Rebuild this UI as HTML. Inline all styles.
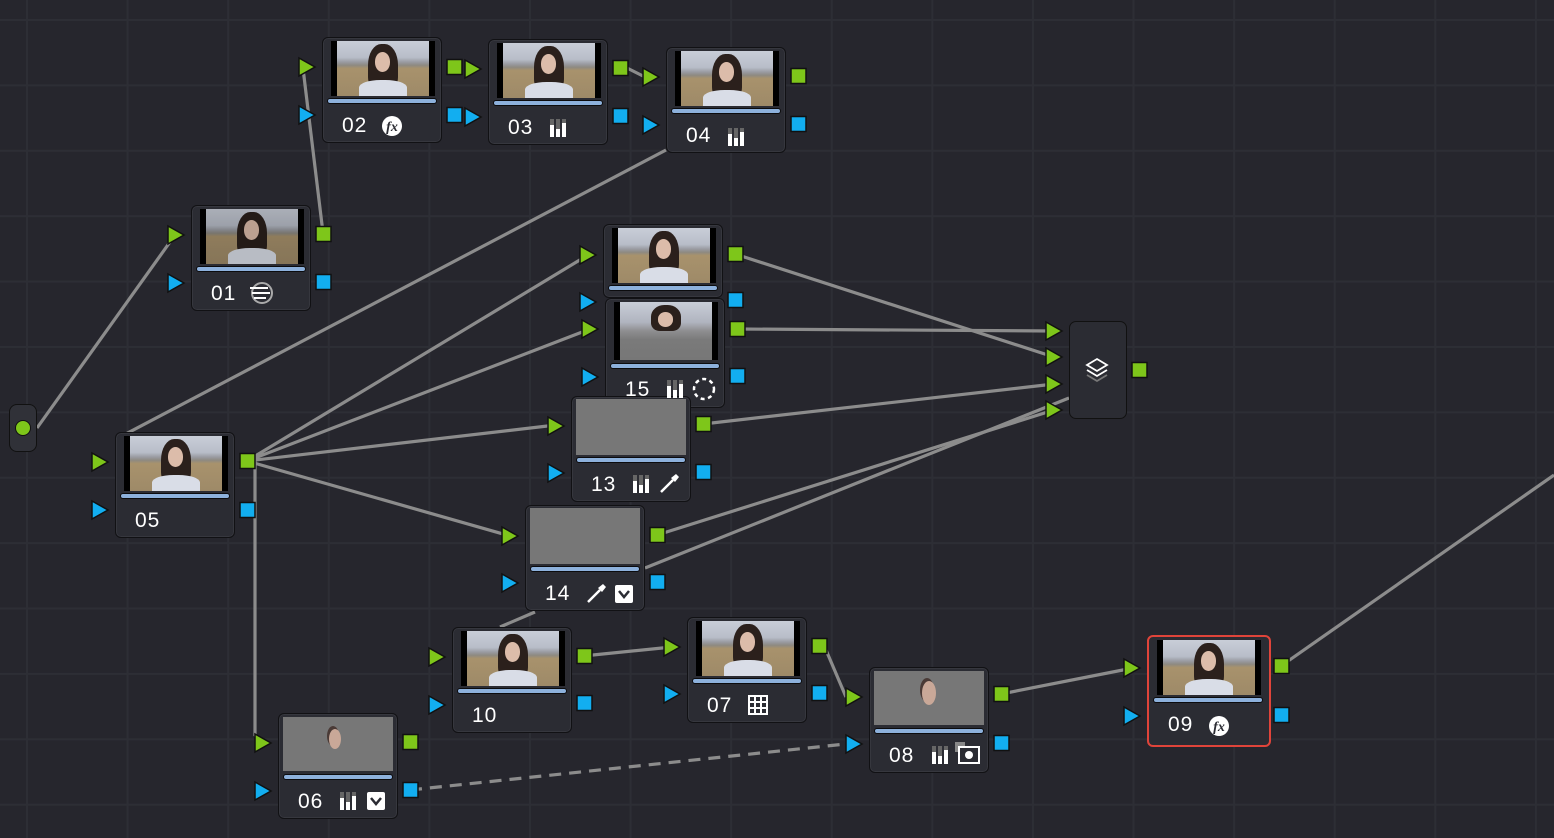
<!DOCTYPE html>
<html><head><meta charset="utf-8"><style>
html,body{margin:0;padding:0}
body{width:1554px;height:838px;overflow:hidden;position:relative;background-color:#26262d;
background-image:linear-gradient(90deg,#2d2e35 2px,transparent 2px),linear-gradient(#2d2e35 2px,transparent 2px);
background-size:100.6px 65.4px;background-position:26px 19px;font-family:"Liberation Sans","DejaVu Sans",sans-serif}
.n{position:absolute;width:118px;height:104px;background:#2b2c33;border:1px solid #111114;border-radius:6px;box-shadow:inset 0 0 0 1px #36373e}
.t{position:absolute;left:8px;top:3px;width:104px;height:55px;background:#000;overflow:hidden}
.ph{position:absolute;left:6px;right:6px;top:0;bottom:0;overflow:hidden;background:linear-gradient(#c9ced8 0%,#b8bdc8 30%,#9a9ca3 38%,#8e8a82 44%,#a8926c 50%,#9e8a68 100%)}
.hair{position:absolute;left:34%;top:6%;width:32%;height:85%;background:#2b201c;border-radius:45% 45% 30% 30%}
.face{position:absolute;left:41%;top:20%;width:17%;height:36%;background:#dcbcaa;border-radius:50%}
.shirt{position:absolute;left:24%;bottom:0;width:52%;height:30%;background:#d9dde7;border-radius:45% 45% 0 0}
.g{position:absolute;left:8px;top:3px;width:104px;height:55px;background:#777}
.bar{position:absolute;left:4px;top:60px;width:108px;height:4px;background:#8db1dc;border:1px solid #0c0c0e;border-radius:3px}
.lb{position:absolute;left:19px;top:76px;color:#fff;font-size:21px;letter-spacing:1px}
</style></head><body>

<svg width="1554" height="838" style="position:absolute;left:0;top:0" xmlns="http://www.w3.org/2000/svg">
<g stroke="#8c8c8c" stroke-width="3.2" fill="none">
<path d="M37,428 L175,235"/>
<path d="M323,233 L302,60"/>
<path d="M627,68 L645,77"/>
<path d="M120,437 L666,150"/>
<path d="M247,461 L588,255 M247,461 L590,329 M247,461 L556,425 M247,461 L510,536"/>
<path d="M255,461 L255,735 L265,742"/>
<path d="M735,254 L1054,357"/>
<path d="M737,329 L1054,331"/>
<path d="M703,424 L1054,384"/>
<path d="M657,535 L1054,410"/>
<path d="M645,568 L1069,398"/>
<path d="M535,612 L500,627"/>
<path d="M583,656 L672,647"/>
<path d="M826,650 L846,697"/>
<path d="M1001,694 L1133,668"/>
<path d="M1281,666 L1554,475"/>
<path d="M410,790 L855,743" stroke-dasharray="12,8"/>
</g>
</svg>

<div style="position:absolute;left:9px;top:404px;width:26px;height:46px;background:#303138;border:1px solid #111;border-radius:8px"></div>
<div style="position:absolute;left:15px;top:420px;width:14px;height:14px;background:#7ec61a;border:1px solid #111;border-radius:50%"></div>

<div style="position:absolute;left:1069px;top:321px;width:56px;height:96px;background:#2b2c33;border:1px solid #111;border-radius:7px"></div>

<div class="n" style="left:322px;top:37px"><div class="t"><div class="ph"><div class="hair"></div><div class="face"></div><div class="shirt"></div></div></div><div class="bar"></div><div class="lb">02</div></div>
<div class="n" style="left:488px;top:39px"><div class="t"><div class="ph"><div class="hair"></div><div class="face"></div><div class="shirt"></div></div></div><div class="bar"></div><div class="lb">03</div></div>
<div class="n" style="left:666px;top:47px"><div class="t"><div class="ph"><div class="hair"></div><div class="face"></div><div class="shirt"></div></div></div><div class="bar"></div><div class="lb">04</div></div>
<div class="n" style="left:191px;top:205px"><div class="t"><div class="ph" style="opacity:.85"><div class="hair"></div><div class="face"></div><div class="shirt"></div></div></div><div class="bar"></div><div class="lb">01</div></div>
<div class="n" style="left:603px;top:224px;height:72px"><div class="t"><div class="ph"><div class="hair"></div><div class="face"></div><div class="shirt"></div></div></div><div class="bar"></div></div>
<div class="n" style="left:605px;top:298px;height:108px"><div class="t" style="height:58px"><div class="ph" style="background:linear-gradient(#c9ced8 0%,#b0b4bf 35%,#8e8e90 50%,#7a7a7a 65%,#777 100%)"><div class="hair" style="height:45%;top:5%"></div><div class="face" style="top:18%;height:25%"></div></div></div><div class="bar" style="top:64px"></div><div class="lb" style="top:79px">15</div></div>
<div class="n" style="left:571px;top:396px"><div class="g" style="left:4px;width:110px;top:2px;height:56px"></div><div class="bar"></div><div class="lb">13</div></div>
<div class="n" style="left:115px;top:432px"><div class="t"><div class="ph"><div class="hair"></div><div class="face"></div><div class="shirt"></div></div></div><div class="bar"></div><div class="lb">05</div></div>
<div class="n" style="left:525px;top:505px"><div class="g" style="left:4px;width:110px;top:2px;height:56px"></div><div class="bar"></div><div class="lb">14</div></div>
<div class="n" style="left:452px;top:627px"><div class="t"><div class="ph"><div class="hair"></div><div class="face"></div><div class="shirt"></div></div></div><div class="bar"></div><div class="lb">10</div></div>
<div class="n" style="left:687px;top:617px"><div class="t"><div class="ph"><div class="hair"></div><div class="face"></div><div class="shirt"></div></div></div><div class="bar"></div><div class="lb">07</div></div>
<div class="n" style="left:869px;top:667px"><div class="g" style="left:4px;width:110px;top:3px;height:54px"><div style="position:absolute;left:48px;top:10px;width:14px;height:24px;background:#c9a898;border-radius:50%;box-shadow:-2px -3px 0 #4a3a36"></div></div><div class="bar"></div><div class="lb">08</div></div>
<div class="n" style="left:278px;top:713px"><div class="g" style="left:4px;width:110px;top:3px;height:54px"><div style="position:absolute;left:46px;top:12px;width:12px;height:20px;background:#c9a898;border-radius:50%;box-shadow:-2px -3px 0 #4a3a36"></div></div><div class="bar"></div><div class="lb">06</div></div>
<div class="n" style="left:1147px;top:635px;border:2px solid #e0443a;box-shadow:none;width:120px;height:108px"><div class="t"><div class="ph"><div class="hair"></div><div class="face"></div><div class="shirt"></div></div></div><div class="bar"></div><div class="lb">09</div></div>

<svg width="1554" height="838" style="position:absolute;left:0;top:0" xmlns="http://www.w3.org/2000/svg">
<defs>
<g id="tg"><polygon points="0,-9 16,0 0,9" fill="#7ec61a" stroke="#111" stroke-width="1.5"/></g>
<g id="tb"><polygon points="0,-9 16,0 0,9" fill="#12aef0" stroke="#111" stroke-width="1.5"/></g>
<g id="sg"><rect x="0" y="-7.5" width="15" height="15" fill="#7ec61a" stroke="#111" stroke-width="1.5"/></g>
<g id="sb"><rect x="0" y="-7.5" width="15" height="15" fill="#12aef0" stroke="#111" stroke-width="1.5"/></g>
<g id="bars"><rect x="0" y="0" width="4" height="18" fill="#666"/><rect x="6" y="0" width="4" height="18" fill="#666"/><rect x="12" y="0" width="4" height="18" fill="#666"/><rect x="0" y="6" width="4" height="12" fill="#fff"/><rect x="6" y="10" width="4" height="8" fill="#fff"/><rect x="12" y="4" width="4" height="14" fill="#fff"/></g>
<g id="fx"><circle cx="0" cy="0" r="10" fill="#fff"/><text x="0" y="5" text-anchor="middle" font-family="Liberation Serif,serif" font-style="italic" font-weight="bold" font-size="14" fill="#2b2c33">fx</text></g>
<g id="chk"><rect x="-9" y="-9" width="18" height="18" rx="2" fill="#fff"/><path d="M-5,-3 L0,3 L5,-3" stroke="#2b2c33" stroke-width="2.5" fill="none"/></g>
<g id="pick"><path d="M-8,8 L4,-4" stroke="#fff" stroke-width="2.5"/><path d="M2,-6 L7,-10 L10,-7 L6,-2 Z" fill="#fff"/></g>
</defs>
<use href="#tg" x="299" y="67"/><use href="#tb" x="299" y="115"/><use href="#sg" x="447" y="67"/><use href="#sb" x="447" y="115"/>
<use href="#tg" x="465" y="69"/><use href="#tb" x="465" y="117"/><use href="#sg" x="613" y="68"/><use href="#sb" x="613" y="116"/>
<use href="#tg" x="643" y="77"/><use href="#tb" x="643" y="125"/><use href="#sg" x="791" y="76"/><use href="#sb" x="791" y="124"/>
<use href="#tg" x="168" y="235"/><use href="#tb" x="168" y="283"/><use href="#sg" x="316" y="234"/><use href="#sb" x="316" y="282"/>
<use href="#tg" x="580" y="255"/><use href="#tb" x="580" y="302"/><use href="#sg" x="728" y="254"/><use href="#sb" x="728" y="300"/>
<use href="#tg" x="582" y="329"/><use href="#tb" x="582" y="377"/><use href="#sg" x="730" y="329"/><use href="#sb" x="730" y="376"/>
<use href="#tg" x="548" y="426"/><use href="#tb" x="548" y="473"/><use href="#sg" x="696" y="424"/><use href="#sb" x="696" y="472"/>
<use href="#tg" x="92" y="462"/><use href="#tb" x="92" y="510"/><use href="#sg" x="240" y="461"/><use href="#sb" x="240" y="510"/>
<use href="#tg" x="502" y="536"/><use href="#tb" x="502" y="583"/><use href="#sg" x="650" y="535"/><use href="#sb" x="650" y="582"/>
<use href="#tg" x="429" y="657"/><use href="#tb" x="429" y="705"/><use href="#sg" x="577" y="656"/><use href="#sb" x="577" y="703"/>
<use href="#tg" x="664" y="647"/><use href="#tb" x="664" y="694"/><use href="#sg" x="812" y="646"/><use href="#sb" x="812" y="693"/>
<use href="#tg" x="846" y="697"/><use href="#tb" x="846" y="744"/><use href="#sg" x="994" y="694"/><use href="#sb" x="994" y="743"/>
<use href="#tg" x="255" y="743"/><use href="#tb" x="255" y="791"/><use href="#sg" x="403" y="742"/><use href="#sb" x="403" y="790"/>
<use href="#tg" x="1124" y="668"/><use href="#tb" x="1124" y="716"/><use href="#sg" x="1274" y="666"/><use href="#sb" x="1274" y="715"/>
<use href="#tg" x="1046" y="331"/><use href="#tg" x="1046" y="357"/><use href="#tg" x="1046" y="384"/><use href="#tg" x="1046" y="410"/><use href="#sg" x="1132" y="370"/>
<g fill="none" stroke="#fff" stroke-width="1.8"><path d="M1097,359 L1107,365 L1097,371 L1087,365 Z"/><path d="M1087,370 L1097,376 L1107,370"/></g>
<path d="M1087,375 L1097,381 L1107,375" stroke="#777" stroke-width="1.8" fill="none"/>
<use href="#fx" x="392" y="126"/>
<use href="#bars" x="550" y="119"/>
<use href="#bars" x="728" y="128"/>
<g><circle cx="262" cy="293" r="10" fill="none" stroke="#aaa" stroke-width="2"/><path d="M250,288 H268 M252,293 H270 M254,298 H266" stroke="#fff" stroke-width="2"/></g>
<use href="#bars" x="667" y="380"/>
<circle cx="704" cy="389" r="10" fill="none" stroke="#fff" stroke-width="2.5" stroke-dasharray="4,3.5"/>
<use href="#bars" x="633" y="475"/>
<use href="#pick" x="669" y="484"/>
<use href="#pick" x="596" y="594"/>
<use href="#chk" x="624" y="594"/>
<g fill="none" stroke="#fff" stroke-width="2"><rect x="749" y="696" width="18" height="18"/><path d="M755,696 V714 M761,696 V714 M749,702 H767 M749,708 H767"/></g>
<use href="#bars" x="932" y="746"/>
<g><rect x="955" y="742" width="10" height="10" fill="#888"/><rect x="959" y="747" width="20" height="16" fill="#2b2c33" stroke="#fff" stroke-width="2"/><circle cx="969" cy="755" r="4" fill="#fff"/></g>
<use href="#bars" x="340" y="792"/>
<use href="#chk" x="376" y="801"/>
<use href="#fx" x="1219" y="726"/>
</svg>
</body></html>
